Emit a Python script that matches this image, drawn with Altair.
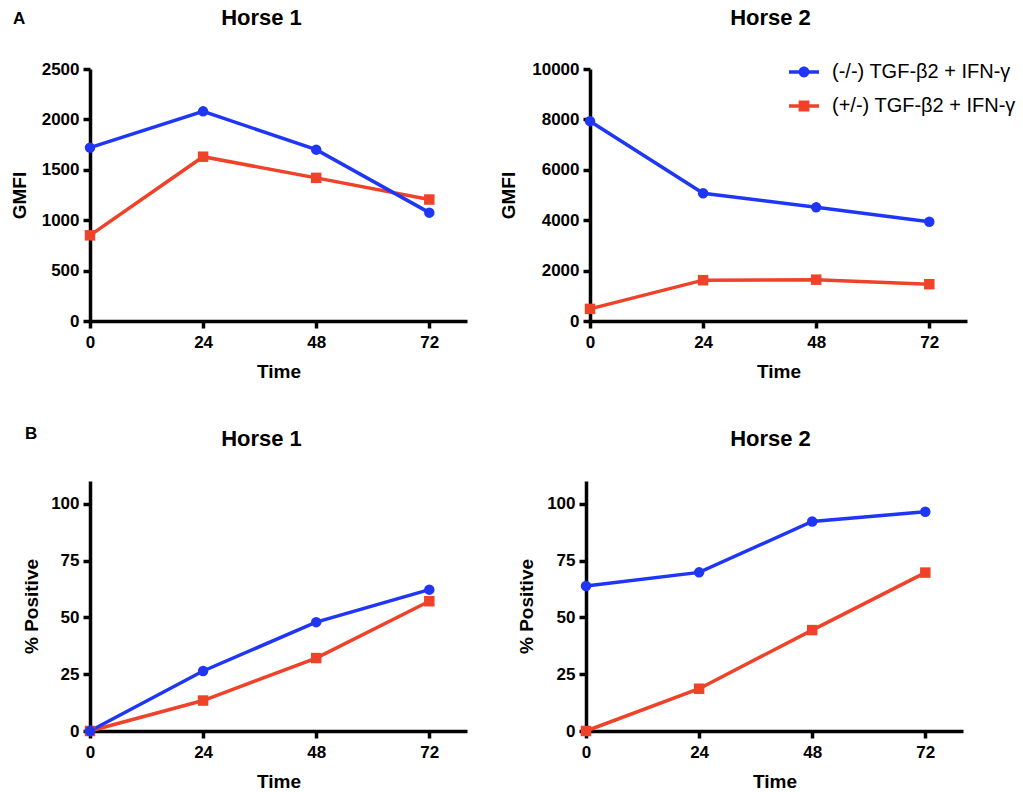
import altair as alt
import pandas as pd

FONT = "Liberation Sans"

time = [0, 24, 48, 72]
series = ["(-/-) TGF-β2 + IFN-γ", "(+/-) TGF-β2 + IFN-γ"]
colors = ["#1f37f5", "#ee4229"]

a1_blue = [1720, 2080, 1700, 1075]
a1_red = [850, 1630, 1420, 1205]
a2_blue = [7930, 5070, 4510, 3940]
a2_red = [480, 1620, 1640, 1460]
b1_blue = [0, 26.4, 47.9, 62.2]
b1_red = [0, 13.4, 32.1, 57.1]
b2_blue = [63.8, 69.8, 92.2, 96.5]
b2_red = [0, 18.6, 44.4, 69.7]


def make_df(blue, red):
    rows = []
    for s, vals, k in [(series[1], red, 0), (series[0], blue, 1)]:
        for t, v in zip(time, vals):
            rows.append({"time": t, "value": v, "series": s, "k": k})
    return pd.DataFrame(rows)


circle_path = ("M-1,-0.12 L1,-0.12 L1,0.12 L-1,0.12 Z "
               "M0.36,0 A0.36,0.36 0 1,1 -0.36,0 A0.36,0.36 0 1,1 0.36,0 Z")
square_path = ("M-1,-0.12 L1,-0.12 L1,0.12 L-1,0.12 Z "
               "M-0.36,-0.36 L0.36,-0.36 L0.36,0.36 L-0.36,0.36 Z")

legend = alt.Legend(
    title=None,
    orient="none",
    legendX=699,
    legendY=-12,
    symbolSize=900,
    symbolType=alt.ExprRef(expr="datum.value === '" + series[0] + "' ? '" + circle_path + "' : '" + square_path + "'"),
    labelFont=FONT,
    labelFontSize=20,
    labelFontWeight="normal",
    labelColor="black",
    labelOffset=13,
    rowPadding=9,
    symbolStrokeWidth=0,
    symbolOpacity=1,
    labelLimit=400,
)

color_scale = alt.Scale(domain=series, range=colors)
# reversed order so these scales are kept apart from the colour legend
stroke_scale = alt.Scale(domain=series[::-1], range=colors[::-1])
shape_scale = alt.Scale(domain=series[::-1], range=["square", "circle"])


def panel(df, ytitle, ydomain, yticks, title, title_dx, ytitle_x):
    base = alt.Chart(df).encode(
        x=alt.X("time:Q", scale=alt.Scale(domain=[0, 80], nice=False),
                axis=alt.Axis(values=time, title="Time", titlePadding=12, labelPadding=6, format="d")),
        y=alt.Y("value:Q", scale=alt.Scale(domain=ydomain, nice=False),
                axis=alt.Axis(values=yticks, title=ytitle, titleX=ytitle_x, format="d")),
        order=alt.Order("k:Q"),
        detail="series:N",
    )
    line = base.mark_line(strokeWidth=3.5).encode(
        stroke=alt.Stroke("series:N", scale=stroke_scale, legend=None)
    )
    pts = base.mark_point(filled=True, size=110, opacity=1).encode(
        color=alt.Color("series:N", scale=color_scale, legend=legend),
        shape=alt.Shape("series:N", scale=shape_scale, legend=None),
    )
    return alt.layer(line, pts).properties(
        width=377, height=252,
        title=alt.TitleParams(title, fontSize=22, fontWeight="bold", font=FONT,
                              anchor="middle", frame="group", dx=title_dx, offset=30,
                              color="black"),
    )


A1 = panel(make_df(a1_blue, a1_red), "GMFI", [0, 2500], [0, 500, 1000, 1500, 2000, 2500],
           "Horse 1", -17, -61)
A2 = panel(make_df(a2_blue, a2_red), "GMFI", [0, 10000], [0, 2000, 4000, 6000, 8000, 10000],
           "Horse 2", -8, -72)
B1 = panel(make_df(b1_blue, b1_red), "% Positive", [0, 110], [0, 25, 50, 75, 100],
           "Horse 1", -17, -49).properties(height=250)
B2 = panel(make_df(b2_blue, b2_red), "% Positive", [0, 110], [0, 25, 50, 75, 100],
           "Horse 2", -4, -50).properties(height=250)

rowA = alt.hconcat(A1, A2, spacing=32).properties(
    title=alt.TitleParams("A", anchor="start", fontSize=17, fontWeight="bold", font=FONT,
                          color="black", dy=21, dx=3, offset=0))
rowB = alt.hconcat(B1, B2, spacing=50).properties(
    title=alt.TitleParams("B", anchor="start", fontSize=17, fontWeight="bold", font=FONT,
                          color="black", dy=15, dx=3, offset=0))

chart = alt.vconcat(rowA, rowB, spacing=44).properties(
    padding={"left": 10, "top": 7, "right": 5, "bottom": 5},
    background="white",
).configure_view(stroke=None).configure_axis(
    grid=False,
    domainColor="black",
    domainWidth=3.5,
    tickColor="black",
    tickWidth=3.5,
    tickSize=7,
    labelFont=FONT,
    labelFontSize=17,
    labelFontWeight="bold",
    labelColor="black",
    labelPadding=4,
    labelFlush=False,
    titleFont=FONT,
    titleFontSize=19,
    titleFontWeight="bold",
    titleColor="black",
)

chart.save("out.html", embed_options={"renderer": "svg", "actions": False})
